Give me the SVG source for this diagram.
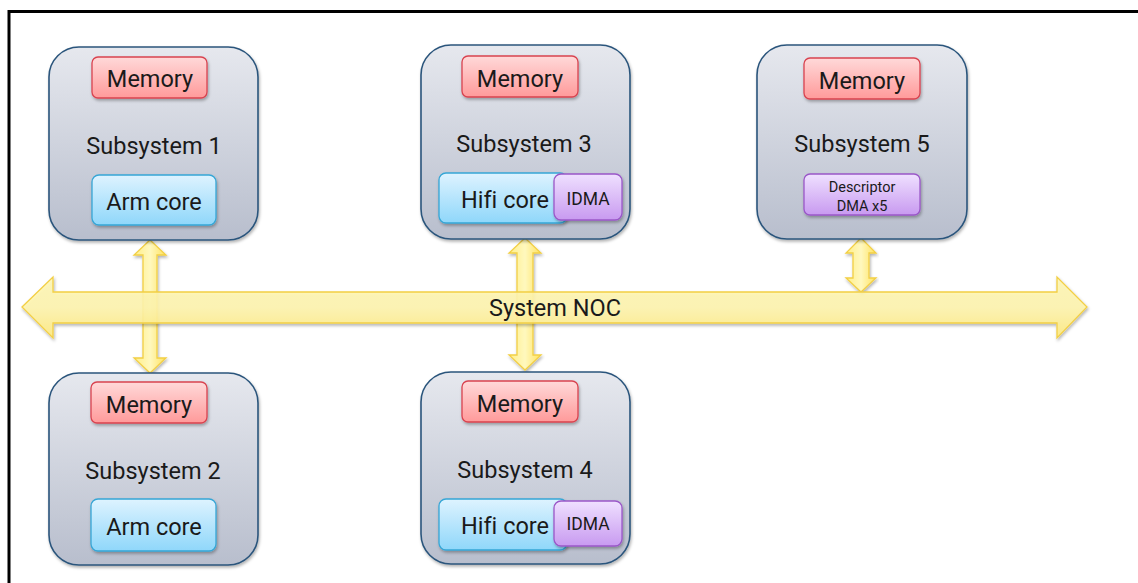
<svg xmlns="http://www.w3.org/2000/svg" width="1138" height="583" viewBox="0 0 1138 583">
<defs>
<linearGradient id="gSub" x1="0" y1="0" x2="0" y2="1"><stop offset="0" stop-color="#E6E8EE"/><stop offset="1" stop-color="#B8BECD"/></linearGradient>
<linearGradient id="gMem" x1="0" y1="0" x2="0" y2="1"><stop offset="0" stop-color="#FFD9D9"/><stop offset="1" stop-color="#FF9A9A"/></linearGradient>
<linearGradient id="gCore" x1="0" y1="0" x2="0" y2="1"><stop offset="0" stop-color="#DEF3FF"/><stop offset="1" stop-color="#8FD7FA"/></linearGradient>
<linearGradient id="gDma" x1="0" y1="0" x2="0" y2="1"><stop offset="0" stop-color="#EFE0FF"/><stop offset="1" stop-color="#C89AF0"/></linearGradient>
<linearGradient id="gArrV" x1="0" y1="0" x2="1" y2="0"><stop offset="0" stop-color="#FFEE88"/><stop offset="0.5" stop-color="#FFF8BE"/><stop offset="1" stop-color="#FFE25E"/></linearGradient>
<linearGradient id="gArrH" x1="0" y1="0" x2="0" y2="1"><stop offset="0" stop-color="#FFF7B4"/><stop offset="0.5" stop-color="#FFF5AE"/><stop offset="1" stop-color="#FFEA7E"/></linearGradient>
<filter id="sh" x="-10%" y="-10%" width="120%" height="130%"><feDropShadow dx="1" dy="2" stdDeviation="1.5" flood-color="#000" flood-opacity="0.3"/></filter>
</defs>
<style>
.sub{fill:url(#gSub);stroke:#2B557C;stroke-width:1.6}
.mem{fill:url(#gMem);stroke:#D9434F;stroke-width:1.3}
.core{fill:url(#gCore);stroke:#36A6D6;stroke-width:1.3}
.dma{fill:url(#gDma);stroke:#9A57C8;stroke-width:1.3}
.arrv{fill:url(#gArrV);stroke:#F2CF45;stroke-width:1.3}
.arrh{fill:url(#gArrH);fill-opacity:0.88;stroke:#F2CF45;stroke-width:1.3}
text{font-family:Roboto,"Liberation Sans",sans-serif;fill:#1A1A1A;text-anchor:middle;font-variant-ligatures:none}
.t{font-size:23.5px}
.s{font-size:17.5px}
.xs{font-size:14.5px}
</style>
<rect x="9" y="11.5" width="1200" height="640" fill="#fff" stroke="#000" stroke-width="3"/>

<g id="connectors">
<polygon class="arrv" filter="url(#sh)" points="150,240 166,255 157,255 157,358 166,358 150,373 134,358 143,358 143,255 134,255"/>
<polygon class="arrv" filter="url(#sh)" points="525,238 541,253 533,253 533,355 541,355 525,370 509,355 517,355 517,253 509,253"/>
<polygon class="arrv" filter="url(#sh)" points="861,238 876,253 869,253 869,278 876,278 861,292 846,278 853,278 853,253 846,253"/>
<polygon id="noc" class="arrh" filter="url(#sh)" points="22,307 53,277 53,292 1057,292 1057,277 1087,307 1057,338 1057,323 53,323 53,338"/>
<text class="t" x="555" y="316">System NOC</text>
</g>

<g id="subsystem1">
<rect class="sub" filter="url(#sh)" x="49" y="47" width="209" height="193" rx="30"/>
<rect class="mem" filter="url(#sh)" x="92" y="57" width="115" height="41" rx="6"/>
<text class="t" x="150" y="87">Memory</text>
<text class="t" x="154" y="154">Subsystem 1</text>
<rect class="core" filter="url(#sh)" x="92" y="175" width="124" height="50" rx="7"/>
<text class="t" x="154" y="210">Arm core</text>
</g>

<g id="subsystem2">
<rect class="sub" filter="url(#sh)" x="49" y="373" width="209" height="192" rx="30"/>
<rect class="mem" filter="url(#sh)" x="91" y="382" width="116" height="41" rx="6"/>
<text class="t" x="149" y="413">Memory</text>
<text class="t" x="153" y="479">Subsystem 2</text>
<rect class="core" filter="url(#sh)" x="91" y="499" width="125" height="52" rx="7"/>
<text class="t" x="154" y="535">Arm core</text>
</g>

<g id="subsystem3">
<rect class="sub" filter="url(#sh)" x="421" y="45" width="209" height="194" rx="30"/>
<rect class="mem" filter="url(#sh)" x="462" y="56" width="116" height="41" rx="6"/>
<text class="t" x="520" y="87">Memory</text>
<text class="t" x="524" y="152">Subsystem 3</text>
<rect class="core" filter="url(#sh)" x="439" y="173" width="128" height="50" rx="7"/>
<text class="t" x="505" y="208">Hifi core</text>
<rect class="dma" filter="url(#sh)" x="554" y="174" width="68" height="46" rx="7"/>
<text class="s" x="588" y="205">IDMA</text>
</g>

<g id="subsystem4">
<rect class="sub" filter="url(#sh)" x="421" y="372" width="209" height="192" rx="30"/>
<rect class="mem" filter="url(#sh)" x="462" y="381" width="116" height="41" rx="6"/>
<text class="t" x="520" y="412">Memory</text>
<text class="t" x="525" y="478">Subsystem 4</text>
<rect class="core" filter="url(#sh)" x="439" y="499" width="128" height="51" rx="7"/>
<text class="t" x="505" y="534">Hifi core</text>
<rect class="dma" filter="url(#sh)" x="554" y="501" width="68" height="45" rx="7"/>
<text class="s" x="588" y="530">IDMA</text>
</g>

<g id="subsystem5">
<rect class="sub" filter="url(#sh)" x="757" y="45" width="210" height="194" rx="30"/>
<rect class="mem" filter="url(#sh)" x="804" y="58" width="116" height="41" rx="6"/>
<text class="t" x="862" y="89">Memory</text>
<text class="t" x="862" y="152">Subsystem 5</text>
<rect class="dma" filter="url(#sh)" x="804" y="174" width="116" height="41" rx="6"/>
<text class="xs" x="862" y="192">Descriptor</text>
<text class="xs" x="862" y="211">DMA x5</text>
</g>
</svg>
